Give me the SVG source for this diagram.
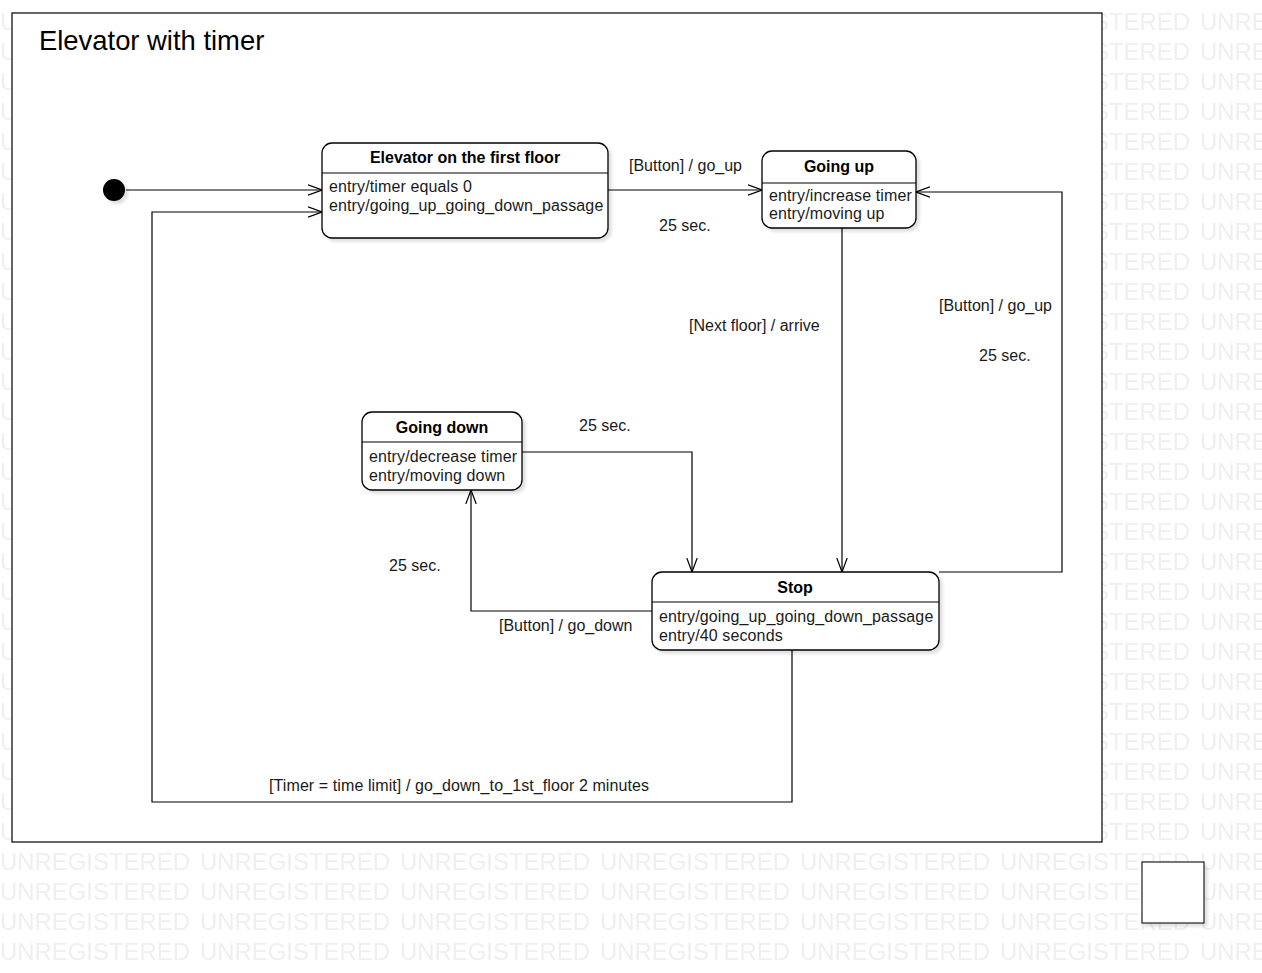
<svg xmlns="http://www.w3.org/2000/svg" width="1262" height="973" viewBox="0 0 1262 973">
<style>
text{font-family:"Liberation Sans",Arial,sans-serif;fill:#1a1a1a}
.t{font-size:16px;font-weight:bold;text-anchor:middle;fill:#000}
.e{font-size:16px;letter-spacing:0.12px}
.l{font-size:16px}
.wm{font-size:24px;fill:#efefef}
.box{fill:#fff;stroke:#000;stroke-width:1.3}
.div{stroke:#000;stroke-width:1}
.c{fill:none;stroke:#000;stroke-width:1.2}
</style>
<defs>
<pattern id="wmp" patternUnits="userSpaceOnUse" x="0" y="0" width="200" height="30">
<text class="wm" x="0" y="29.5" textLength="190" lengthAdjust="spacingAndGlyphs">UNREGISTERED</text>
</pattern>
<filter id="sh" x="-10%" y="-10%" width="130%" height="140%">
<feDropShadow dx="3" dy="3" stdDeviation="1.5" flood-color="#000" flood-opacity="0.12"/>
</filter>
<marker id="arr" markerUnits="userSpaceOnUse" viewBox="0 0 14 12" refX="14" refY="6" markerWidth="14" markerHeight="12" orient="auto">
<path d="M0,0.8 L14,6 L0,11.2" fill="none" stroke="#000" stroke-width="1.2"/>
</marker>
</defs>
<rect x="0" y="0" width="1262" height="973" fill="#fff"/>
<rect x="0" y="0" width="1262" height="963" fill="url(#wmp)"/>
<g id="frame">
<rect x="12" y="13" width="1090" height="829" fill="#fff" stroke="#000" stroke-width="1.2"/>
<text x="39" y="50" style="font-size:27.4px;fill:#000">Elevator with timer</text>
</g>
<g id="corner-box">
<rect x="1142" y="862" width="62" height="61" fill="#fff" stroke="#222" stroke-width="1.2" filter="url(#sh)"/>
</g>
<g id="connectors">
<path class="c" d="M126,190 H322" marker-end="url(#arr)"/>
<path class="c" d="M608,190 H762" marker-end="url(#arr)"/>
<text class="l" x="629" y="171">[Button] / go_up</text>
<text class="l" x="659" y="231">25 sec.</text>
<path class="c" d="M842,228 V572" marker-end="url(#arr)"/>
<text class="l" x="689" y="331">[Next floor] / arrive</text>
<path class="c" d="M939,572 H1062 V192 H916" marker-end="url(#arr)"/>
<text class="l" x="939" y="311">[Button] / go_up</text>
<text class="l" x="979" y="361">25 sec.</text>
<path class="c" d="M522,452 H692 V572" marker-end="url(#arr)"/>
<text class="l" x="579" y="431">25 sec.</text>
<path class="c" d="M652,611 H471 V490" marker-end="url(#arr)"/>
<text class="l" x="389" y="571">25 sec.</text>
<text class="l" x="499" y="631">[Button] / go_down</text>
<path class="c" d="M792,650 V802 H152 V212 H322" marker-end="url(#arr)"/>
<text class="l" x="269" y="791" textLength="380">[Timer = time limit] / go_down_to_1st_floor 2 minutes</text>
</g>
<g id="initial">
<circle cx="114" cy="190" r="11" fill="#000" filter="url(#sh)"/>
</g>
<g id="first-floor">
<rect class="box" x="322" y="143" width="286" height="95" rx="10" filter="url(#sh)"/>
<line class="div" x1="322" y1="173" x2="608" y2="173"/>
<text class="t" x="465" y="163">Elevator on the first floor</text>
<text class="e" x="329" y="192">entry/timer equals 0</text>
<text class="e" x="329" y="211">entry/going_up_going_down_passage</text>
</g>
<g id="going-up">
<rect class="box" x="762" y="151" width="154" height="77" rx="10" filter="url(#sh)"/>
<line class="div" x1="762" y1="183" x2="916" y2="183"/>
<text class="t" x="839" y="172">Going up</text>
<text class="e" x="769" y="201">entry/increase timer</text>
<text class="e" x="769" y="219">entry/moving up</text>
</g>
<g id="going-down">
<rect class="box" x="362" y="412" width="160" height="78" rx="10" filter="url(#sh)"/>
<line class="div" x1="362" y1="442" x2="522" y2="442"/>
<text class="t" x="442" y="433">Going down</text>
<text class="e" x="369" y="462">entry/decrease timer</text>
<text class="e" x="369" y="481">entry/moving down</text>
</g>
<g id="stop">
<rect class="box" x="652" y="572" width="287" height="78" rx="10" filter="url(#sh)"/>
<line class="div" x1="652" y1="602" x2="939" y2="602"/>
<text class="t" x="795" y="593">Stop</text>
<text class="e" x="659" y="622">entry/going_up_going_down_passage</text>
<text class="e" x="659" y="641">entry/40 seconds</text>
</g>
</svg>
